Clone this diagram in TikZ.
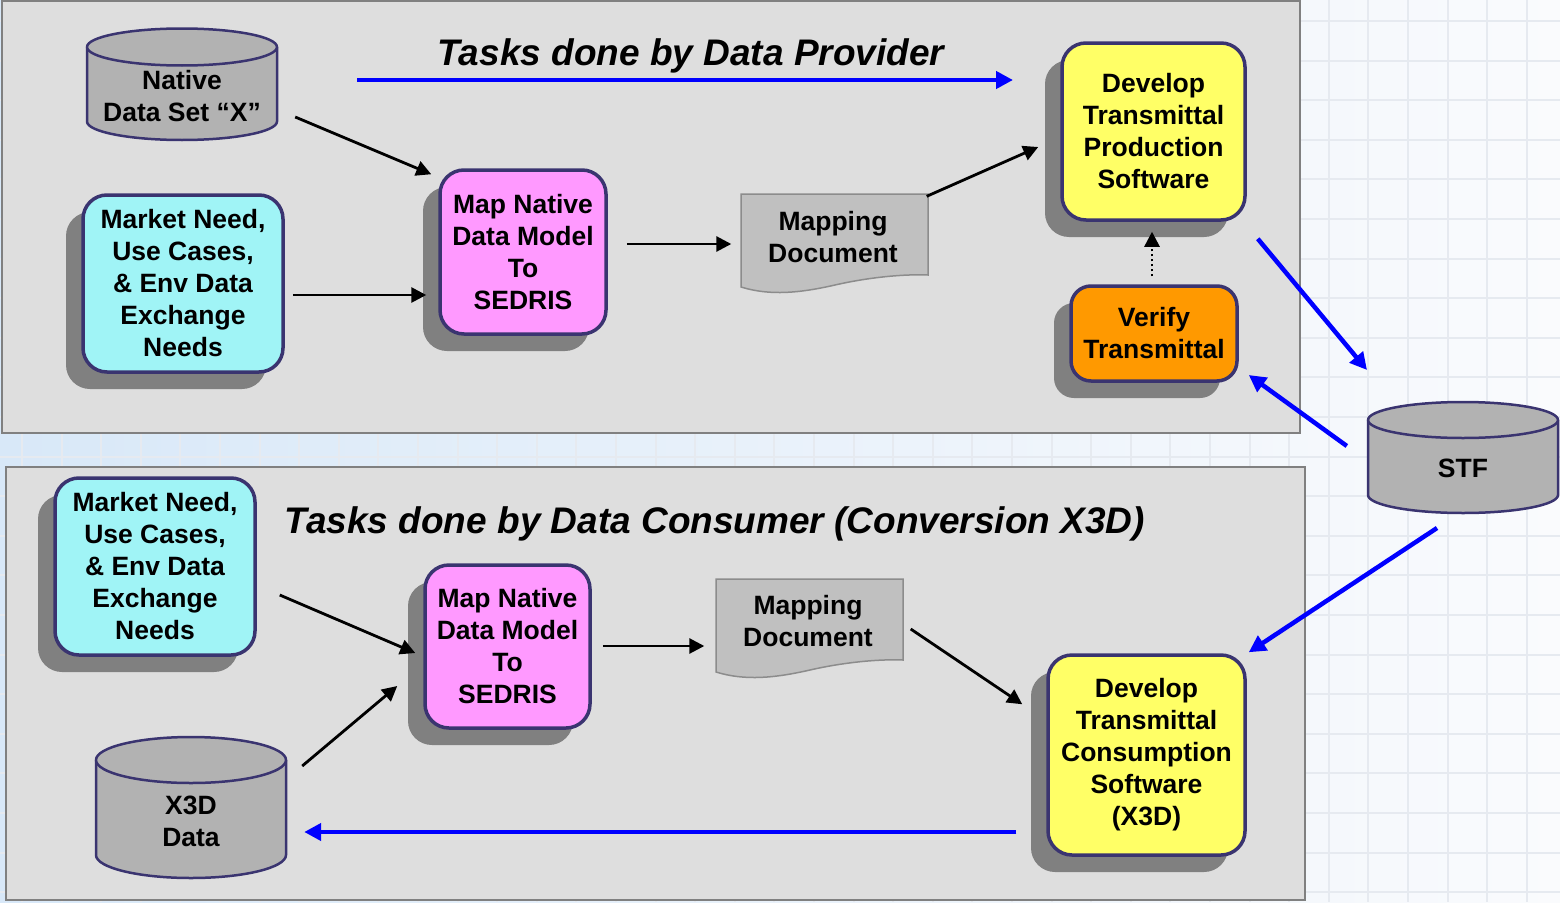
\documentclass[tikz,border=0pt]{standalone}
\usepackage{fontspec}
\setmainfont{Liberation Sans}
\usetikzlibrary{arrows.meta,shadows,calc}

\definecolor{panelfill}{RGB}{222,222,222}
\definecolor{paneledge}{RGB}{128,128,128}
\definecolor{boxedge}{RGB}{58,52,112}
\definecolor{shadowgray}{RGB}{128,128,128}
\definecolor{cyanfill}{RGB}{160,244,246}
\definecolor{pinkfill}{RGB}{255,153,255}
\definecolor{yellowfill}{RGB}{255,255,102}
\definecolor{orangefill}{RGB}{255,153,0}
\definecolor{cylfill}{RGB}{178,178,178}
\definecolor{docfill}{RGB}{192,192,192}
\definecolor{docedge}{RGB}{140,140,140}
\definecolor{flowblue}{RGB}{0,0,255}
\definecolor{bgblue}{RGB}{216,232,248}
\definecolor{bgwhite}{RGB}{250,251,253}
\definecolor{gridline}{RGB}{230,234,240}

\newcommand\taskfont{\bfseries\fontsize{26.5}{32}\selectfont}
\newcommand\headfont{\bfseries\itshape\fontsize{37}{44}\selectfont}

% database drum: centre x, top-ellipse y, bottom-ellipse y, x radius, y radius
\newcommand\drumshape[5]{%
  \filldraw[drum] ({#1-#4},#2) -- ({#1-#4},#3)
     arc[start angle=180,end angle=360,x radius=#4pt,y radius=#5pt]
     -- ({#1+#4},#2)
     arc[start angle=0,end angle=180,x radius=#4pt,y radius=#5pt] -- cycle;
  \draw[drum] ({#1-#4},#2) arc[start angle=180,end angle=360,x radius=#4pt,y radius=#5pt];}

% document sheet with wavy lower edge, shifted by (dx,dy)
\newcommand\papersheet[2]{%
  \filldraw[sheet,shift={(#1,#2)}] (741,-194) -- (928,-194) -- (928,-275)
     .. controls (905,-274) and (870,-277) .. (835,-285)
     .. controls (800,-293) and (770,-296) .. (741,-287) -- cycle;}

\begin{document}
\begin{tikzpicture}[x=1pt,y=1pt,
  task/.style={rounded corners=24pt, draw=boxedge, line width=3.5pt,
    align=center, inner sep=0pt, font=\taskfont,
    general shadow={fill=shadowgray, shadow xshift=-17pt, shadow yshift=-17pt}},
  label/.style={align=center, inner sep=0pt, font=\taskfont},
  drum/.style={fill=cylfill, draw=boxedge, line width=2.5pt},
  sheet/.style={fill=docfill, draw=docedge, line width=1.5pt},
  panel/.style={fill=panelfill, draw=paneledge, line width=2pt},
  flow/.style={draw=black, line width=2.8pt, -{Triangle[length=15pt,width=15pt]}},
  blueflow/.style={draw=flowblue, line width=4.5pt, -{Triangle[length=17pt,width=17pt]}},
  checkflow/.style={draw=black, line width=2.6pt, dash pattern=on 2.5pt off 2.5pt,
    -{Triangle[length=15pt,width=15pt]}},
  heading/.style={anchor=base, inner sep=0pt, font=\headfont}]

% background with faint grid
\useasboundingbox (0,0) rectangle (1560,-902);
\shade[left color=bgblue, right color=bgwhite] (0,0) rectangle (1560,-902);
\foreach \gx in {0,...,39} \draw[gridline, line width=2pt] ({22+39.6*\gx},0) -- ++(0,-902);
\foreach \gy in {0,...,22} \draw[gridline, line width=2pt] (0,{-21-39.6*\gy}) -- ++(1560,0);

% the two task panels
\draw[panel] (2,-1) rectangle (1300,-433);
\draw[panel] (6,-467) rectangle (1305,-900);

% ---------- provider side ----------
\node[heading] (tp) at (691,-65) {Tasks done by Data Provider};
\coordinate (pa) at (357,-80);
\coordinate (pb) at (1013,-80);
\draw[blueflow] (pa) -- (pb);

\drumshape{182}{-47}{-121.5}{95}{18.5}
\node[label, minimum width=190pt] (nat) at (182,-96) {Native\\Data Set “X”};

\node[task, fill=cyanfill, minimum width=200pt, minimum height=177pt] (mkt1) at (183,-283.5)
  {Market Need,\\Use Cases,\\\& Env Data\\Exchange\\Needs};
\node[task, fill=pinkfill, minimum width=166pt, minimum height=164pt] (map1) at (523,-252)
  {Map Native\\Data Model\\To\\SEDRIS};
\papersheet{0}{0}
\node[label, minimum width=187pt, minimum height=81pt] (doc1) at (833,-237) {Mapping\\Document};
\node[task, fill=yellowfill, minimum width=183pt, minimum height=177pt] (dev1) at (1153.5,-131.5)
  {Develop\\Transmittal\\Production\\Software};
\node[task, rounded corners=20pt, fill=orangefill, minimum width=166pt, minimum height=95pt] (ver) at (1154,-333.5)
  {Verify\\Transmittal};

\drumshape{1463}{-420}{-495}{95}{18}
\node[label, minimum width=190pt] (stf) at (1463,-468) {STF};

\draw[flow] ($(nat.east)+(18,-21)$) -- ($(map1.north west)+(-7,-6)$);
\draw[flow] ($(mkt1.east)+(8,-11.5)$) -- ($(map1.west)+(-12,-43)$);
\draw[flow] ($(map1.east)+(19,8)$) -- ($(doc1.west)+(-8,-7)$);
\draw[flow] (doc1.north east) -- ($(dev1.west)+(-22,-15.5)$);
\draw[checkflow] ($(ver.north)+(-2,8)$) -- ($(dev1.south)+(-1.5,-10)$);
\draw[blueflow] ($(dev1.south east)+(11,-17)$) -- ($(stf.center)+(-96,98)$);
\draw[blueflow] ($(stf.west)+(-21,22)$) -- ($(ver.east)+(10,-41.5)$);

% ---------- consumer side ----------
\node[heading] (tc) at (715,-533) {Tasks done by Data Consumer (Conversion X3D)};

\node[task, fill=cyanfill, minimum width=200pt, minimum height=177pt] (mkt2) at (155,-566.5)
  {Market Need,\\Use Cases,\\\& Env Data\\Exchange\\Needs};
\node[task, fill=pinkfill, minimum width=165pt, minimum height=163pt] (map2) at (507.5,-646.5)
  {Map Native\\Data Model\\To\\SEDRIS};
\papersheet{-25}{-385}
\node[label, minimum width=187pt, minimum height=81pt] (doc2) at (808,-621) {Mapping\\Document};
\node[task, fill=yellowfill, minimum width=197pt, minimum height=200pt] (dev2) at (1146.5,-755)
  {Develop\\Transmittal\\Consumption\\Software\\(X3D)};

\drumshape{191}{-760}{-855}{95}{23}
\node[label, minimum width=190pt] (x3d) at (191,-821) {X3D\\Data};

\draw[blueflow] ($(stf.center)+(-26,-60)$) -- ($(dev2.north east)+(2,1)$);
\draw[blueflow] ($(dev2.west)+(-30,-77)$) -- ($(x3d.east)+(18,-11)$);
\draw[flow] ($(mkt2.east)+(23,-28.5)$) -- ($(map2.west)+(-8,-6.5)$);
\draw[flow] ($(x3d.east)+(16,55)$) -- ($(map2.west)+(-26,-39.5)$);
\draw[flow] ($(map2.east)+(11,0.5)$) -- ($(doc2.west)+(-10,-25)$);
\draw[flow] ($(doc2.east)+(9,-8)$) -- ($(dev2.north west)+(-24,-51)$);
\end{tikzpicture}
\end{document}
